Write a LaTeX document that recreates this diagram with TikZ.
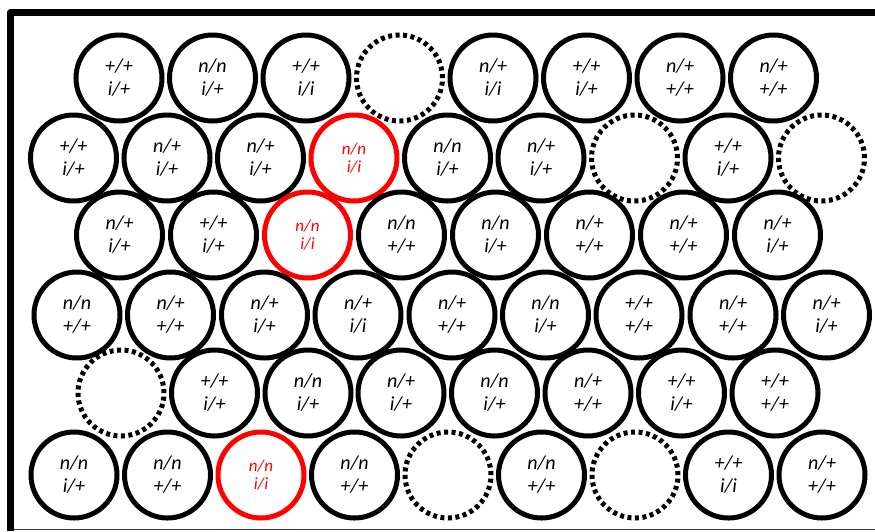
\documentclass[tikz,border=0pt]{standalone}
\usepackage{fontspec}
\setmainfont{Carlito}
\usetikzlibrary{positioning}

\begin{document}
\begin{tikzpicture}[x=1pt,y=-1pt,
    geno/.style={circle, draw=black, line width=5pt, minimum size=86pt,
                 inner sep=0pt, align=center,
                 font=\fontsize{20}{23}\selectfont\itshape},
    hit/.style={geno, draw=red, text=red,
                font=\fontsize{17}{18.5}\selectfont\itshape},
    gap/.style={geno, dash pattern=on 4pt off 3.5pt},
    frame/.style={line width=7.5pt, line join=round},
]
\useasboundingbox (0,0) rectangle (875,531);

% outline of the plate
\draw[line width=1pt, black!80] (11,529) -- (875,529);
\draw[frame] (10.5,531) -- (10.5,12.5) -- (875,12.5);

% row a
\node[geno] (a1) at (119,78)   {+/+\\i/+};
\node[geno] (a2) at (212.5,78) {n/n\\i/+};
\node[geno] (a3) at (306,78)   {+/+\\i/i};
\node[gap]  (a4) at (399.5,78) {};
\node[geno] (a5) at (493,78)   {n/+\\i/i};
\node[geno] (a6) at (586.5,78) {+/+\\i/+};
\node[geno] (a7) at (680,78)   {n/+\\+/+};
\node[geno] (a8) at (773.5,78) {n/+\\+/+};

% row b
\node[geno] (b1) at (73.5,158)  {+/+\\i/+};
\node[geno] (b2) at (167,158)   {n/+\\i/+};
\node[geno] (b3) at (260.5,158) {n/+\\i/+};
\node[hit]  (b4) at (354,158)   {n/n\\i/i};
\node[geno] (b5) at (447.5,158) {n/n\\i/+};
\node[geno] (b6) at (541,158)   {n/+\\i/+};
\node[gap]  (b7) at (634.5,158) {};
\node[geno] (b8) at (728,158)   {+/+\\i/+};
\node[gap]  (b9) at (821.5,158) {};

% row c
\node[geno] (c1) at (119.5,235) {n/+\\i/+};
\node[geno] (c2) at (213.5,235) {+/+\\i/+};
\node[hit]  (c3) at (307.5,235) {n/n\\i/i};
\node[geno] (c4) at (401.5,235) {n/n\\+/+};
\node[geno] (c5) at (495.5,235) {n/n\\i/+};
\node[geno] (c6) at (589.5,235) {n/+\\+/+};
\node[geno] (c7) at (683.5,235) {n/+\\+/+};
\node[geno] (c8) at (777.5,235) {n/+\\i/+};

% row d
\node[geno] (d1) at (77,315)    {n/n\\+/+};
\node[geno] (d2) at (170.5,315) {n/+\\+/+};
\node[geno] (d3) at (264.5,315) {n/+\\i/+};
\node[geno] (d4) at (358,315)   {n/+\\i/i};
\node[geno] (d5) at (452,315)   {n/+\\+/+};
\node[geno] (d6) at (545.5,315) {n/n\\i/+};
\node[geno] (d7) at (639,315)   {+/+\\+/+};
\node[geno] (d8) at (733,315)   {n/+\\+/+};
\node[geno] (d9) at (826.5,315) {n/+\\i/+};

% row e
\node[gap]  (e1) at (121,393)   {};
\node[geno] (e2) at (214.5,393) {+/+\\i/+};
\node[geno] (e3) at (308,393)   {n/n\\i/+};
\node[geno] (e4) at (401,393)   {n/+\\i/+};
\node[geno] (e5) at (494.5,393) {n/n\\i/+};
\node[geno] (e6) at (588,393)   {n/+\\+/+};
\node[geno] (e7) at (681.5,393) {+/+\\i/+};
\node[geno] (e8) at (775,393)   {+/+\\+/+};

% row f
\node[geno] (f1) at (74,475)    {n/n\\i/+};
\node[geno] (f2) at (167.5,475) {n/n\\+/+};
\node[hit]  (f3) at (261,475)   {n/n\\i/i};
\node[geno] (f4) at (354.5,475) {n/n\\+/+};
\node[gap]  (f5) at (448,475)   {};
\node[geno] (f6) at (541.5,475) {n/n\\+/+};
\node[gap]  (f7) at (635,475)   {};
\node[geno] (f8) at (728.5,475) {+/+\\i/i};
\node[geno] (f9) at (822,475)   {n/+\\+/+};
\end{tikzpicture}
\end{document}
